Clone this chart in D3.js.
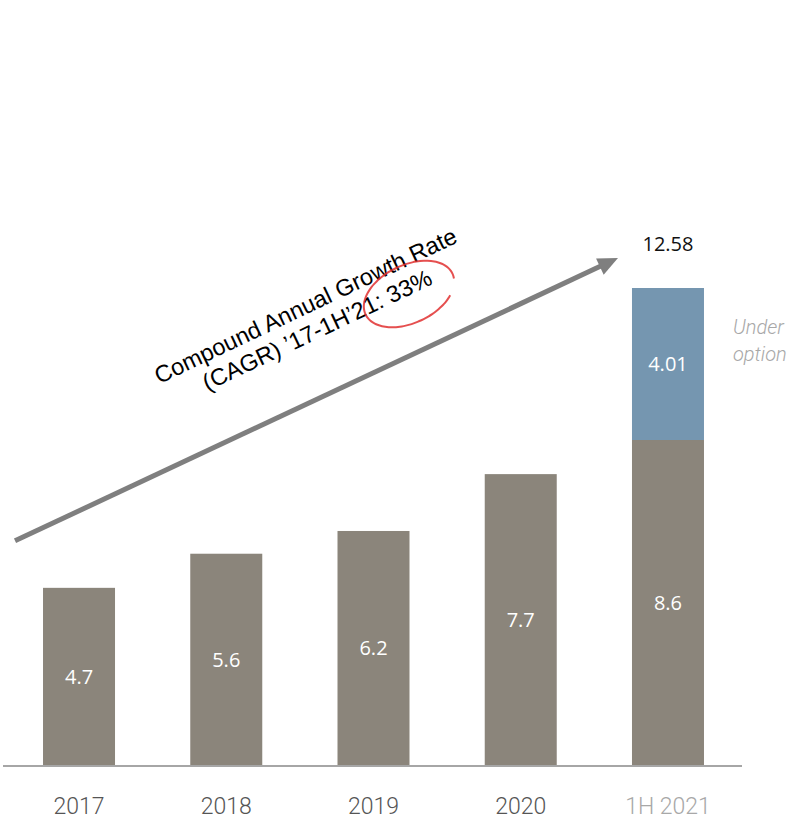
<!DOCTYPE html>
<html>
<head>
<meta charset="utf-8">
<script src="https://cdn.jsdelivr.net/npm/d3@7"></script>
<style>
  body { margin: 0; background: #fff; }
</style>
</head>
<body>
<div id="chart"></div>
<script>
// data
const categories = ["2017", "2018", "2019", "2020", "1H 2021"];
const baseValues = [4.7, 5.6, 6.2, 7.7, 8.6];
const optionValues = [0, 0, 0, 0, 4.01];
const baseLabels = ["4.7", "5.6", "6.2", "7.7", "8.6"];
const optionLabels = ["", "", "", "", "4.01"];
const totalLabels = ["", "", "", "", "12.58"];
const cagrLines = ["Compound Annual Growth Rate", "(CAGR) \u201917-1H\u201921: 33%"];

const width = 798, height = 819;
const baseline = 766;

const svg = d3.select("#chart").append("svg")
  .attr("width", width).attr("height", height);

//scales
const x = d3.scaleBand().domain(categories)
  .range([5.4, 741.6]).paddingInner(0.511).paddingOuter(0.2555);
const y = d3.scaleLinear().domain([0, 12.61]).range([baseline, 288]);

const rows = categories.map((c, i) => ({
  cat: c, base: baseValues[i], opt: optionValues[i],
  baseLabel: baseLabels[i], optLabel: optionLabels[i], total: totalLabels[i]
}));

//base bars
svg.selectAll(".base").data(rows).join("rect")
  .attr("x", d => x(d.cat)).attr("width", x.bandwidth())
  .attr("y", d => y(d.base)).attr("height", d => y(0) - y(d.base))
  .attr("fill", "#8b857b");

//under option bars
svg.selectAll(".opt").data(rows.filter(d => d.opt > 0)).join("rect")
  .attr("x", d => x(d.cat)).attr("width", x.bandwidth())
  .attr("y", d => y(d.base + d.opt)).attr("height", d => y(d.base) - y(d.base + d.opt))
  .attr("fill", "#7596b0");

const labelFont = "'Open Sans', 'DejaVu Sans', sans-serif";

//value labels
svg.selectAll(".bl").data(rows).join("text")
  .attr("x", d => x(d.cat) + x.bandwidth() / 2)
  .attr("y", d => (y(0) + y(d.base)) / 2)
  .attr("dy", "0.35em").attr("text-anchor", "middle")
  .style("font-family", labelFont).style("font-size", "20px").attr("fill", "#fff")
  .text(d => d.baseLabel);

svg.selectAll(".ol").data(rows.filter(d => d.opt > 0)).join("text")
  .attr("x", d => x(d.cat) + x.bandwidth() / 2)
  .attr("y", d => (y(d.base) + y(d.base + d.opt)) / 2)
  .attr("dy", "0.35em").attr("text-anchor", "middle")
  .style("font-family", labelFont).style("font-size", "20px").attr("fill", "#fff")
  .text(d => d.optLabel);

svg.selectAll(".tl").data(rows.filter(d => d.total)).join("text")
  .attr("x", d => x(d.cat) + x.bandwidth() / 2)
  .attr("y", d => y(d.base + d.opt) - 44)
  .attr("dy", "0.35em").attr("text-anchor", "middle")
  .style("font-family", labelFont).style("font-size", "20px").attr("fill", "#111")
  .text(d => d.total);

//"Under option" note
const last = categories[categories.length - 1];
const noteX = x(last) + x.bandwidth() + 29;
const note = svg.append("text")
  .attr("y", y(11.4))
  .style("font-family", "Roboto, 'Open Sans', sans-serif").style("font-size", "20px")
  .style("font-style", "italic").style("font-weight", 300).attr("fill", "#a8a8a8");
note.append("tspan").attr("x", noteX).attr("dy", 0).text("Under");
note.append("tspan").attr("x", noteX).attr("dy", 27).text("option");

//x axis
svg.append("line")
  .attr("x1", 3).attr("x2", 742).attr("y1", y(0)).attr("y2", y(0))
  .attr("stroke", "#a6a6a6").attr("stroke-width", 2);

svg.selectAll(".xl").data(categories).join("text")
  .attr("x", d => x(d) + x.bandwidth() / 2)
  .attr("y", y(0) + 48)
  .attr("text-anchor", "middle")
  .style("font-family", "Roboto, 'Liberation Sans', sans-serif")
  .style("font-weight", 300)
  .style("font-size", "23px")
  .attr("fill", (d, i) => i === categories.length - 1 ? "#a8a8a8" : "#555")
  .text(d => d);

//CAGR arrow
const x0 = x(categories[0]) - 28, y0 = y(5.94);
const x1 = x(last) - 14, y1 = y(13.4);
const ang = Math.atan2(y1 - y0, x1 - x0);
const headLen = 20, headW = 9;
const lineEndX = x1 - Math.cos(ang) * headLen * 0.8, lineEndY = y1 - Math.sin(ang) * headLen * 0.8;
svg.append("line")
  .attr("x1", x0).attr("y1", y0).attr("x2", lineEndX).attr("y2", lineEndY)
  .attr("stroke", "#7f7f7f").attr("stroke-width", 5);
const bx = x1 - Math.cos(ang) * headLen, by = y1 - Math.sin(ang) * headLen;
svg.append("path")
  .attr("d", d3.line()([
    [x1, y1],
    [bx + Math.sin(ang) * headW, by - Math.cos(ang) * headW],
    [bx - Math.sin(ang) * headW, by + Math.cos(ang) * headW]
  ]) + "Z")
  .attr("fill", "#7f7f7f");

//CAGR text
const deg = ang * 180 / Math.PI;
const tg = svg.append("g").attr("transform", `translate(309,313) rotate(${deg - 0.3})`);
tg.selectAll("text").data(cagrLines).join("text")
  .attr("x", 0)
  .attr("y", (d, i) => i * 27)
  .attr("text-anchor", "middle")
  .style("font-family", "'Liberation Sans', Arial, sans-serif")
  .style("font-size", "23.5px").attr("fill", "#000")
  .text(d => d);

//red hand-drawn circle round "33%"
const cg = svg.append("g").attr("transform", `translate(409,294) rotate(${deg})`);
const arc = d3.range(0, 335, 5).map(t => {
  const r = (t + 40) * Math.PI / 180;
  return [Math.cos(r) * 48, Math.sin(r) * 29];
});
cg.append("path")
  .attr("d", d3.line().curve(d3.curveCardinal)(arc))
  .attr("fill", "none").attr("stroke", "#e03030").attr("stroke-width", 2)
  .attr("opacity", 0.85);
</script>
</body>
</html>
